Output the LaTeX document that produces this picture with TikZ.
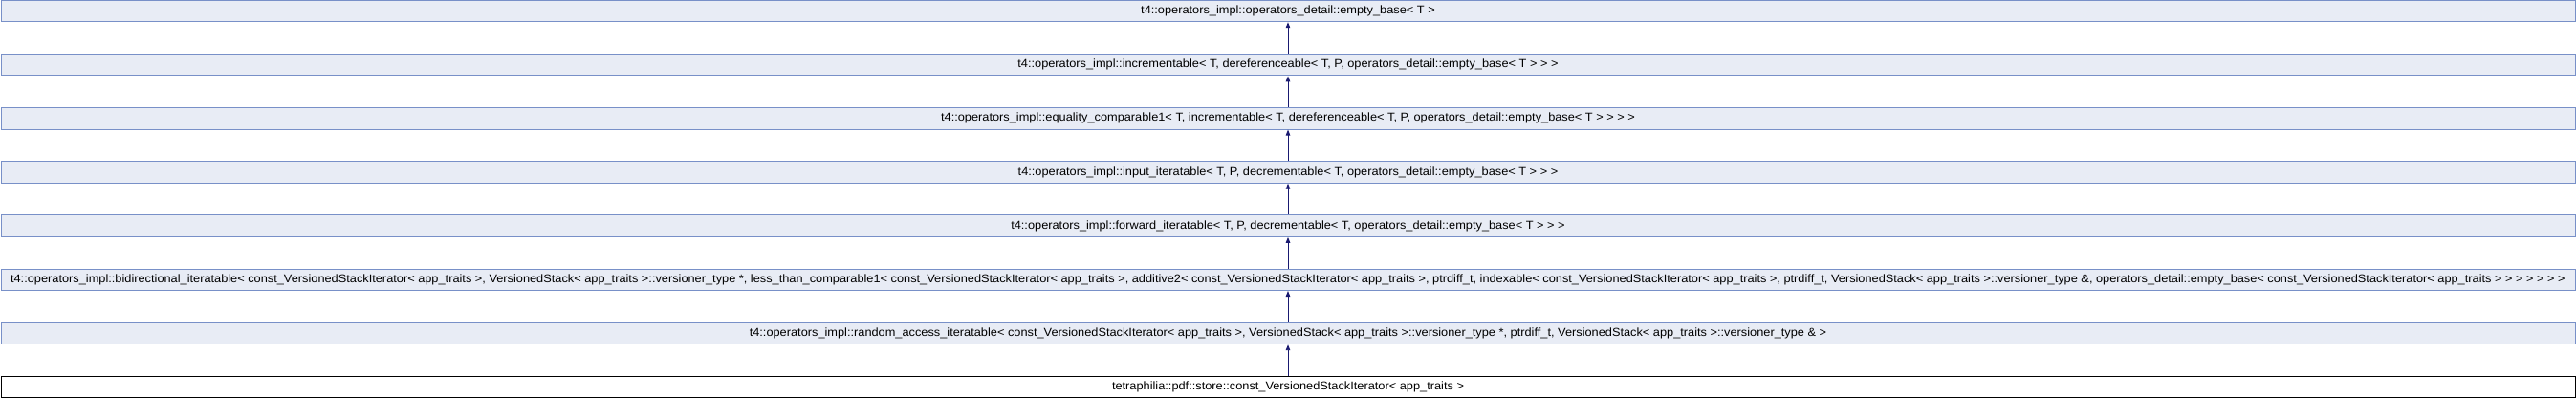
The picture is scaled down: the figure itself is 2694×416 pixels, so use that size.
\documentclass[tikz,border=0pt]{standalone}
\usepackage{fontspec}
\setmainfont[FakeStretch=1.065]{Liberation Sans}
\usepackage{tikz}
\usetikzlibrary{arrows.meta}
\definecolor{boxfill}{HTML}{E8ECF5}
\definecolor{boxline}{HTML}{7890C8}
\definecolor{arrowblue}{HTML}{191970}

\begin{document}
\begin{tikzpicture}[x=1pt,y=1pt,
  classbox/.style={draw=boxline,fill=boxfill,line width=1pt,minimum width=2692pt,minimum height=22.5pt,inner xsep=1pt,inner ysep=0pt,font=\fontsize{12}{14}\selectfont},
  leafbox/.style={classbox,draw=black,fill=white},
  inherit/.style={-{Triangle[length=6pt,width=4.5pt]},line width=0.9pt,color=arrowblue}]
\useasboundingbox (0,0) rectangle (2694,416);
\node[classbox] (emptybase) at (1347,404.5) {t4::operators\_impl::operators\_detail::empty\_base< T >};
\node[classbox] (incrementable) at (1347,348.35) {t4::operators\_impl::incrementable< T, dereferenceable< T, P, operators\_detail::empty\_base< T > > >};
\node[classbox] (eqcomparable) at (1347,292.2) {t4::operators\_impl::equality\_comparable1< T, incrementable< T, dereferenceable< T, P, operators\_detail::empty\_base< T > > > >};
\node[classbox] (inputiter) at (1347,236.05) {t4::operators\_impl::input\_iteratable< T, P, decrementable< T, operators\_detail::empty\_base< T > > >};
\node[classbox] (forwarditer) at (1347,179.9) {t4::operators\_impl::forward\_iteratable< T, P, decrementable< T, operators\_detail::empty\_base< T > > >};
\node[classbox] (biditer) at (1347,123.75) {t4::operators\_impl::bidirectional\_iteratable< const\_VersionedStackIterator< app\_traits >, VersionedStack< app\_traits >::versioner\_type *, less\_than\_comparable1< const\_VersionedStackIterator< app\_traits >, additive2< const\_VersionedStackIterator< app\_traits >, ptrdiff\_t, indexable< const\_VersionedStackIterator< app\_traits >, ptrdiff\_t, VersionedStack< app\_traits >::versioner\_type \&, operators\_detail::empty\_base< const\_VersionedStackIterator< app\_traits > > > > > > >};
\node[classbox] (randomiter) at (1347,67.6) {t4::operators\_impl::random\_access\_iteratable< const\_VersionedStackIterator< app\_traits >, VersionedStack< app\_traits >::versioner\_type *, ptrdiff\_t, VersionedStack< app\_traits >::versioner\_type \& >};
\node[leafbox] (constiter) at (1347,11.45) {tetraphilia::pdf::store::const\_VersionedStackIterator< app\_traits >};
\draw[inherit] (incrementable) -- (emptybase);
\draw[inherit] (eqcomparable) -- (incrementable);
\draw[inherit] (inputiter) -- (eqcomparable);
\draw[inherit] (forwarditer) -- (inputiter);
\draw[inherit] (biditer) -- (forwarditer);
\draw[inherit] (randomiter) -- (biditer);
\draw[inherit] (constiter) -- (randomiter);
\end{tikzpicture}
\end{document}
